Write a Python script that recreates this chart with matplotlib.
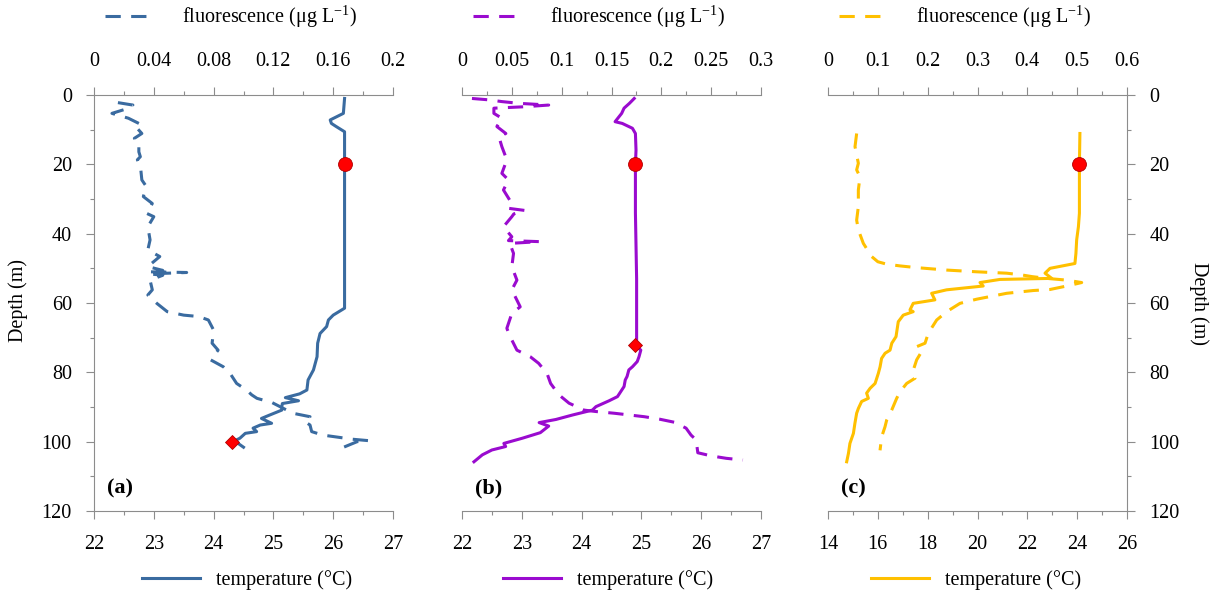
import matplotlib
matplotlib.use("Agg")
import matplotlib.pyplot as plt
from matplotlib.ticker import MultipleLocator

plt.rcParams['font.family'] = ['Liberation Serif', 'DejaVu Serif']
plt.rcParams['mathtext.fontset'] = 'custom'
plt.rcParams['mathtext.rm'] = 'Liberation Serif'

# ---- panel (a) ----
a_temp_depth = [1.0, 5.3, 7.2, 8.2, 9.1, 10.6, 61.5, 63.5, 64.9, 66.8, 68.8, 71.6, 75.5, 79.3,
                82.2, 85.1, 86.2, 87.3, 88.2, 89.0, 89.9, 90.9, 92.3, 93.3, 94.7, 95.2, 96.1,
                97.1, 97.6, 99.0, 99.7, 100.5, 101.6]
a_temp = [26.19, 26.17, 25.95, 25.97, 26.05, 26.19, 26.19, 26.00, 25.92, 25.89, 25.78, 25.74, 25.73, 25.67,
          25.58, 25.56, 25.44, 25.20, 25.42, 25.15, 25.14, 25.14, 24.94, 24.80, 24.97, 24.78, 24.66,
          24.72, 24.53, 24.44, 24.36, 24.41, 24.50]
a_fl_depth = [2.2, 2.9, 4.1, 5.3, 6.7, 8.2, 8.7, 11.1, 12.5, 13.5, 16.4, 17.8, 18.7, 20.2, 24.5, 26.4,
              29.3, 31.3, 34.1, 35.1, 38.0, 41.8, 44.7, 46.6, 49.5, 50.6, 51.0, 51.2, 51.6, 52.0, 53.4,
              56.2, 57.7, 60.1, 62.5, 63.5, 63.9, 64.9, 67.8, 71.6, 73.6, 76.4, 78.4, 80.3, 83.2, 85.1,
              86.5, 87.5, 88.7, 91.8, 92.8, 94.2, 95.2, 97.1, 98.1, 98.7, 99.3, 99.7, 100.0, 101.6]
a_fl = [0.016, 0.026, 0.021, 0.012, 0.023, 0.030, 0.027, 0.032, 0.027, 0.030, 0.030, 0.031, 0.029, 0.031,
        0.032, 0.035, 0.033, 0.039, 0.035, 0.040, 0.036, 0.0375, 0.036, 0.044, 0.036, 0.046, 0.037, 0.062,
        0.037, 0.046, 0.0375, 0.039, 0.036, 0.042, 0.049, 0.060, 0.070, 0.0765, 0.080, 0.079, 0.083, 0.078,
        0.0865, 0.091, 0.0954, 0.102, 0.1055, 0.109, 0.119, 0.133, 0.1445, 0.141, 0.1445, 0.1456, 0.153,
        0.163, 0.173, 0.1835, 0.176, 0.167]
a_circle = (26.19, 20)
a_diamond = (24.30, 100)

# ---- panel (b) ----
b_temp_depth = [1.0, 2.4, 3.8, 5.3, 7.7, 8.2, 9.6, 11.1, 15.9, 20.0, 34.0, 53.0, 70.7, 72.1, 73.6,
                75.5, 76.9, 78.4, 79.3, 81.2, 82.2, 84.1, 87.0, 88.2, 89.9, 90.9, 92.3, 93.6, 94.5,
                95.5, 97.4, 99.0, 100.5, 101.4, 102.4, 103.8, 105.8]
b_temp = [24.88, 24.80, 24.71, 24.67, 24.56, 24.68, 24.85, 24.90, 24.91, 24.90, 24.90, 24.92, 24.92, 24.90,
          24.99, 24.96, 24.93, 24.85, 24.79, 24.76, 24.73, 24.71, 24.60, 24.46, 24.24, 24.18, 23.85, 23.57,
          23.29, 23.45, 23.31, 23.01, 22.70, 22.73, 22.50, 22.34, 22.20]
b_fl_depth = [1.0, 1.4, 1.9, 2.4, 2.9, 3.4, 3.6, 3.8, 5.3, 6.7, 9.1, 11.1, 12.0, 14.9, 18.7, 22.6, 24.5,
              27.4, 31.3, 32.7, 33.3, 34.3, 35.1, 38.0, 40.9, 42.0, 42.3, 42.8, 45.7, 49.5, 53.4, 56.2,
              61.1, 63.0, 67.3, 69.7, 73.6, 75.5, 77.4, 80.3, 83.2, 86.5, 88.9, 90.9, 91.3, 91.8, 92.3,
              92.8, 93.5, 94.4, 96.1, 98.1, 99.5, 103.2, 104.1, 104.8, 105.3]
b_fl = [0.010, 0.027, 0.040, 0.057, 0.087, 0.062, 0.047, 0.032, 0.032, 0.040, 0.035, 0.044, 0.037, 0.040,
        0.045, 0.040, 0.0466, 0.0416, 0.050, 0.047, 0.063, 0.052, 0.050, 0.0416, 0.050, 0.0466, 0.078, 0.048,
        0.0517, 0.050, 0.0551, 0.050, 0.0584, 0.050, 0.045, 0.0483, 0.0551, 0.0685, 0.0769, 0.0853, 0.0889,
        0.0973, 0.1074, 0.1225, 0.1342, 0.1527, 0.1678, 0.1829, 0.198, 0.2131, 0.2248, 0.2298, 0.2349,
        0.2366, 0.250, 0.2651, 0.2819]
b_circle = (24.90, 20)
b_diamond = (24.90, 72)

# ---- panel (c) ----
c_temp_depth = [11.1, 20.0, 34.1, 38.0, 41.8, 45.7, 48.6, 50.0, 51.4, 52.9, 53.2, 54.1, 55.1, 56.2,
                57.2, 59.1, 60.1, 62.0, 62.5, 63.5, 65.4, 69.7, 71.6, 73.6, 74.5, 76.0, 78.4, 80.3,
                83.2, 84.6, 86.0, 87.5, 88.4, 90.4, 91.8, 94.7, 97.6, 100.5, 103.4, 105.8]
c_temp = [24.11, 24.09, 24.09, 24.05, 23.98, 23.95, 23.91, 22.91, 22.71, 22.98, 20.90, 20.10, 20.23, 18.76,
          18.16, 18.29, 17.42, 17.29, 17.42, 17.02, 16.82, 16.73, 16.56, 16.49, 16.29, 16.15, 16.09, 16.02,
          15.89, 15.69, 15.55, 15.62, 15.35, 15.22, 15.15, 15.08, 15.02, 14.88, 14.82, 14.75]
c_fl_depth = [11.1, 14.9, 19.7, 21.6, 23.6, 27.4, 32.2, 36.1, 38.9, 42.8, 46.6, 48.1, 48.8, 49.3, 49.8,
              50.5, 51.0, 51.4, 51.9, 52.4, 52.9, 53.4, 54.1, 55.1, 56.1, 56.4, 57.2, 58.9, 60.1, 62.5,
              64.9, 68.7, 71.6, 72.6, 74.0, 76.4, 79.3, 81.7, 83.2, 85.6, 87.5, 90.9, 93.8, 95.7, 98.6, 102.5]
c_fl = [0.0575, 0.0542, 0.0609, 0.0575, 0.0642, 0.0609, 0.0609, 0.0575, 0.0609, 0.0709, 0.0876, 0.100,
        0.1178, 0.1445, 0.178, 0.2382, 0.2984, 0.3586, 0.3887, 0.410, 0.4388, 0.479, 0.5091, 0.479, 0.4455,
        0.412, 0.3586, 0.2984, 0.2649, 0.2382, 0.2181, 0.2013, 0.1947, 0.1779, 0.188, 0.1779, 0.1713,
        0.1746, 0.1579, 0.1445, 0.1378, 0.1278, 0.1177, 0.1144, 0.1077, 0.1044]
c_circle = (24.09, 20)

panels = [
    dict(tag='(a)', color='#3A6BA0', temp_lim=(22, 27), temp_step=1, fl_lim=(0, 0.2), fl_step=0.04,
         fl_ticks=['0', '0.04', '0.08', '0.12', '0.16', '0.2'],
         td=a_temp_depth, t=a_temp, fd=a_fl_depth, f=a_fl, circle=a_circle, diamond=a_diamond, yside='left'),
    dict(tag='(b)', color='#9A0BCF', temp_lim=(22, 27), temp_step=1, fl_lim=(0, 0.3), fl_step=0.05,
         fl_ticks=['0', '0.05', '0.1', '0.15', '0.2', '0.25', '0.3'],
         td=b_temp_depth, t=b_temp, fd=b_fl_depth, f=b_fl, circle=b_circle, diamond=b_diamond, yside=None),
    dict(tag='(c)', color='#FFC000', temp_lim=(14, 26), temp_step=2, fl_lim=(0, 0.6), fl_step=0.1,
         fl_ticks=['0', '0.1', '0.2', '0.3', '0.4', '0.5', '0.6'],
         td=c_temp_depth, t=c_temp, fd=c_fl_depth, f=c_fl, circle=c_circle, diamond=None, yside='right'),
]

W, H = 1214, 596
fig = plt.figure(figsize=(W / 100, H / 100), dpi=100)
lefts = [94, 462, 828]
top_leg_x = [231, 599, 965]
bot_leg_x = [247, 608, 976]
grey = '#8c8c8c'
fs = 14.5

for p, left, tx, bx in zip(panels, lefts, top_leg_x, bot_leg_x):
    ax = fig.add_axes([left / W, 85 / H, 299 / W, 416 / H])
    ax2 = ax.twiny()
    ax.set_zorder(ax2.get_zorder() + 1)
    ax.patch.set_visible(False)

    ax.set_xlim(*p['temp_lim'])
    ax.set_ylim(120, 0)

    lf, = ax2.plot(p['f'], p['fd'], color=p['color'], lw=2.2, dashes=(5, 3.4), solid_capstyle='round')
    lt, = ax.plot(p['t'], p['td'], color=p['color'], lw=2.2)
    ax.plot([p['circle'][0]], [p['circle'][1]], 'o', color='#ff0000', mec='#b00000', mew=0.6, ms=10)
    if p['diamond']:
        ax.plot([p['diamond'][0]], [p['diamond'][1]], 'D', color='#ff0000', mec='#b00000', mew=0.6, ms=7.5)

    # spines
    for s in ['top', 'left', 'right']:
        ax.spines[s].set_visible(False)
    for s in ['bottom', 'left', 'right']:
        ax2.spines[s].set_visible(False)
    ax.spines['bottom'].set_color(grey)
    ax2.spines['top'].set_color(grey)

    ax.xaxis.set_major_locator(MultipleLocator(p['temp_step']))
    ax.xaxis.set_minor_locator(MultipleLocator(p['temp_step'] / 2))
    ax2.set_xticks([float(s) for s in p['fl_ticks']], p['fl_ticks'])
    ax2.xaxis.set_minor_locator(MultipleLocator(p['fl_step'] / 2))
    ax2.set_xlim(*p['fl_lim'])
    ax.yaxis.set_major_locator(MultipleLocator(20))
    ax.yaxis.set_minor_locator(MultipleLocator(10))

    for a in (ax, ax2):
        a.tick_params(which='both', direction='out', color=grey, width=0.8, labelsize=fs)
        a.tick_params(which='major', length=6)
        a.tick_params(which='minor', length=3)
    ax.tick_params(axis='x', pad=11)
    ax2.tick_params(axis='x', pad=11)

    if p['yside'] == 'left':
        ax.spines['left'].set_visible(True)
        ax.spines['left'].set_color(grey)
        ax.tick_params(axis='y', which='both', left=True, labelleft=True, right=False, pad=10)
    elif p['yside'] == 'right':
        ax.spines['right'].set_visible(True)
        ax.spines['right'].set_color(grey)
        ax.yaxis.tick_right()
        ax.tick_params(axis='y', which='both', left=False, labelleft=False, right=True, labelright=True, pad=10)
    else:
        ax.tick_params(axis='y', which='both', left=False, labelleft=False)

    ax.text(p['temp_lim'][0] + 0.045 * (p['temp_lim'][1] - p['temp_lim'][0]), 113.5, p['tag'],
            fontsize=16, fontweight='bold', ha='left', va='center')

    fig.legend([lf], ['fluorescence (μg L$^{-1}$)'], loc='center', bbox_to_anchor=(tx / W, 1 - 17 / H),
               frameon=False, fontsize=fs, handlelength=2.4, handletextpad=1.4, borderpad=0)
    fig.legend([lt], ['temperature (°C)'], loc='center', bbox_to_anchor=(bx / W, 1 - 580 / H),
               frameon=False, fontsize=fs, handlelength=2.9, handletextpad=0.8, borderpad=0)

fig.text(18 / W, 1 - 300 / H, 'Depth (m)', rotation=90, ha='center', va='center', fontsize=fs)
fig.text(1199 / W, 1 - 303 / H, 'Depth (m)', rotation=270, ha='center', va='center', fontsize=fs)

fig.savefig('out.png', dpi=100)
